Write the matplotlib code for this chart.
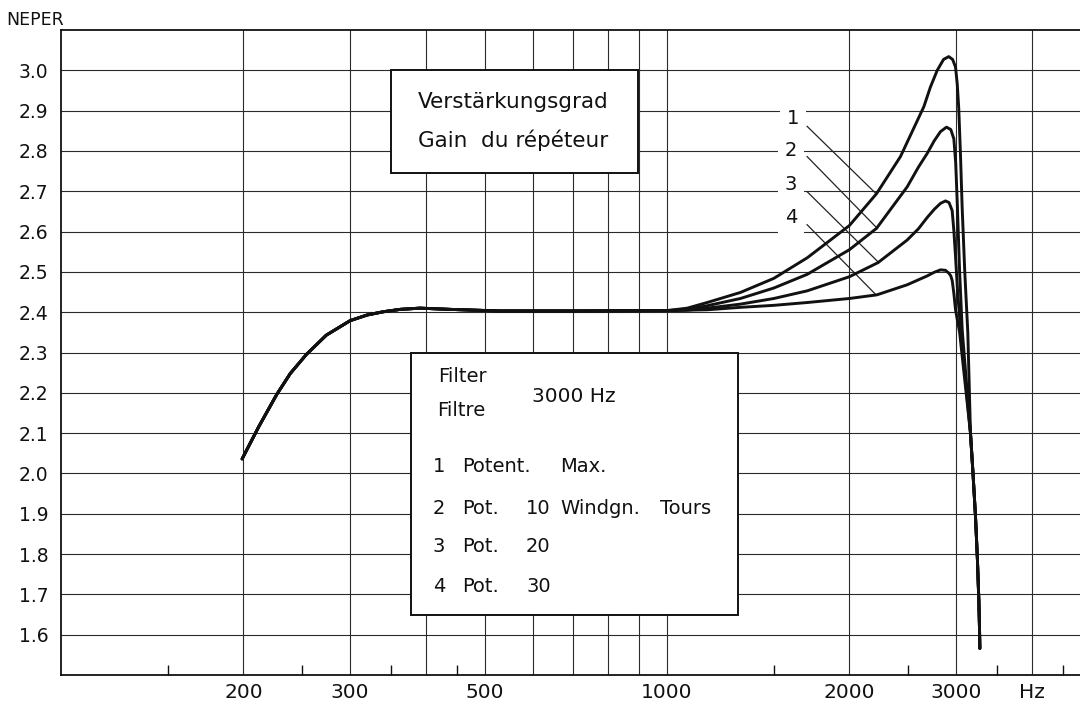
import numpy as np
import matplotlib
matplotlib.use("Agg")
import matplotlib.pyplot as plt
from matplotlib.patches import Rectangle
from matplotlib.ticker import FixedLocator, NullFormatter

# ---------------- data ----------------
freq_common = [199, 212, 227, 239, 254, 274, 300, 320, 340, 363, 391, 438, 530, 700, 1000]
gain_common = [2.036, 2.116, 2.196, 2.248, 2.295, 2.343, 2.379, 2.393, 2.401, 2.407, 2.410, 2.407, 2.403, 2.403, 2.404]

freq_c1 = [1080, 1165, 1322, 1501, 1704, 2000, 2217, 2428, 2654, 2720, 2792, 2860, 2917, 2960, 2993, 3013, 3030, 3050, 3069, 3100, 3136]
gain_c1 = [2.410, 2.424, 2.449, 2.484, 2.535, 2.615, 2.694, 2.786, 2.910, 2.958, 3.000, 3.027, 3.034, 3.027, 3.008, 2.965, 2.905, 2.790, 2.662, 2.500, 2.350]

freq_c2 = [1080, 1165, 1322, 1501, 1704, 2000, 2217, 2491, 2600, 2688, 2760, 2827, 2892, 2940, 2974, 2995, 3013, 3040, 3070]
gain_c2 = [2.407, 2.416, 2.434, 2.460, 2.494, 2.555, 2.608, 2.711, 2.760, 2.794, 2.825, 2.848, 2.859, 2.853, 2.830, 2.770, 2.670, 2.500, 2.356]

freq_c3 = [1080, 1165, 1322, 1501, 1704, 2000, 2230, 2491, 2600, 2688, 2760, 2827, 2881, 2920, 2955, 2975, 2993, 3020, 3055]
gain_c3 = [2.405, 2.410, 2.420, 2.434, 2.453, 2.488, 2.523, 2.579, 2.607, 2.635, 2.655, 2.670, 2.676, 2.672, 2.652, 2.600, 2.538, 2.440, 2.350]

freq_c4 = [1165, 1322, 1501, 1704, 2000, 2220, 2491, 2688, 2760, 2827, 2880, 2917, 2940, 2956, 2974, 2993, 3040]
gain_c4 = [2.406, 2.412, 2.417, 2.424, 2.434, 2.443, 2.468, 2.490, 2.499, 2.505, 2.504, 2.497, 2.490, 2.478, 2.447, 2.406, 2.350]

freq_tail = [3168, 3200, 3229, 3252, 3270, 3278, 3283]
gain_tail = [2.100, 1.995, 1.893, 1.790, 1.686, 1.620, 1.566]

x_grid = [200, 300, 400, 500, 600, 700, 800, 900, 1000, 2000, 3000, 4000]
x_labels = ["200", "300", "", "500", "", "", "", "", "1000", "2000", "3000", "Hz"]
x_minor = [150, 250, 350, 450, 1500, 2500, 3500, 4500]
y_ticks = [1.6, 1.7, 1.8, 1.9, 2.0, 2.1, 2.2, 2.3, 2.4, 2.5, 2.6, 2.7, 2.8, 2.9, 3.0]
y_labels = ["1.6", "1.7", "1.8", "1.9", "2.0", "2.1", "2.2", "2.3", "2.4",
            "2.5", "2.6", "2.7", "2.8", "2.9", "3.0"]

curve_names = ["1", "2", "3", "4"]
legend_num = ["1", "2", "3", "4"]
legend_pot = ["Potent.", "Pot.", "Pot.", "Pot."]
legend_val = ["", "10", "20", "30"]
legend_word = ["Max.", "Windgn.", "", ""]
legend_word2 = ["", "Tours", "", ""]

# ---------------- figure ----------------
W, H = 1080, 707
fig = plt.figure(figsize=(W / 100, H / 100), dpi=100)
plt.rcParams['font.family'] = ['DejaVu Sans']
ax = fig.add_axes([61 / W, 32 / H, 1 - 61 / W, 645 / H])
ax.set_xscale('log')
ax.set_xlim(100, 4803)
ax.set_ylim(1.5, 3.1)

ax.xaxis.set_major_locator(FixedLocator(x_grid))
ax.set_xticklabels(x_labels)
ax.xaxis.set_minor_locator(FixedLocator(x_minor))
ax.xaxis.set_minor_formatter(NullFormatter())
ax.set_yticks(y_ticks)
ax.set_yticklabels(y_labels)
ax.yaxis.set_minor_locator(FixedLocator([]))

ax.tick_params(axis='both', which='major', length=0, colors='#111')
ax.tick_params(axis='x', which='major', pad=6, labelsize=14.5)
ax.tick_params(axis='y', which='major', pad=9, labelsize=13.5)
ax.tick_params(axis='x', which='minor', length=7, width=1.0, direction='in', color='#111')

ax.set_axisbelow(True)
ax.grid(True, which='major', color='#2a2a2a', lw=0.8)
for s in ['left', 'top', 'bottom']:
    ax.spines[s].set_linewidth(1.3)
    ax.spines[s].set_color('#111')
ax.spines['right'].set_visible(False)

# curves
curves = [(freq_c1, gain_c1), (freq_c2, gain_c2), (freq_c3, gain_c3), (freq_c4, gain_c4)]
for fx, gy in curves:
    xs = freq_common + fx + freq_tail
    ys = gain_common + gy + gain_tail
    ax.plot(xs, ys, color='#111', lw=2.1, solid_joinstyle='round',
            solid_capstyle='round', zorder=5)

# boxes
ax.add_patch(Rectangle((351, 2.745), 895 - 351, 3.0 - 2.745, facecolor='white',
                       edgecolor='#111', lw=1.4, zorder=3))
ax.add_patch(Rectangle((378, 1.65), 1311 - 378, 2.3 - 1.65, facecolor='white',
                       edgecolor='#111', lw=1.4, zorder=3))

def ptext(x, y, s, **kw):
    kw.setdefault('fontsize', 14)
    kw.setdefault('ha', 'left')
    kw.setdefault('va', 'center')
    kw.setdefault('color', '#111')
    fig.text(x / W, 1 - y / H, s, zorder=6, **kw)

ptext(418, 102, "Verstärkungsgrad", fontsize=15.5)
ptext(418, 140, "Gain  du répéteur", fontsize=15.5)

ptext(438, 377, "Filter")
ptext(437, 411, "Filtre")
ptext(532, 396, "3000 Hz", fontsize=14.5)
rows_y = [467, 508, 547, 587]
for i, yy in enumerate(rows_y):
    ptext(433, yy, legend_num[i])
    ptext(462, yy, legend_pot[i])
    if legend_val[i]:
        ptext(526, yy, legend_val[i])
    if legend_word[i]:
        ptext(560, yy, legend_word[i])
    if legend_word2[i]:
        ptext(660, yy, legend_word2[i])

ptext(6, 20, "NEPER", fontsize=12.5)

# curve labels with leader lines
leader_start_f = 1703
leader_end_f = [2213, 2223, 2236, 2213]
leader_start_v = [2.861, 2.786, 2.699, 2.617]
leader_end_v = [2.694, 2.608, 2.523, 2.443]
for i in range(4):
    ax.plot([leader_start_f, leader_end_f[i]], [leader_start_v[i], leader_end_v[i]],
            color='#222', lw=0.9, zorder=4)
label_px = [(793, 119), (791, 150), (791, 185), (791, 217)]
for name, (px, py) in zip(curve_names, label_px):
    fig.text(px / W, 1 - py / H, name, fontsize=14, ha='center', va='center',
             color='#111', zorder=6,
             bbox=dict(facecolor='white', edgecolor='none', pad=5))

fig.savefig("out.png", dpi=100)
